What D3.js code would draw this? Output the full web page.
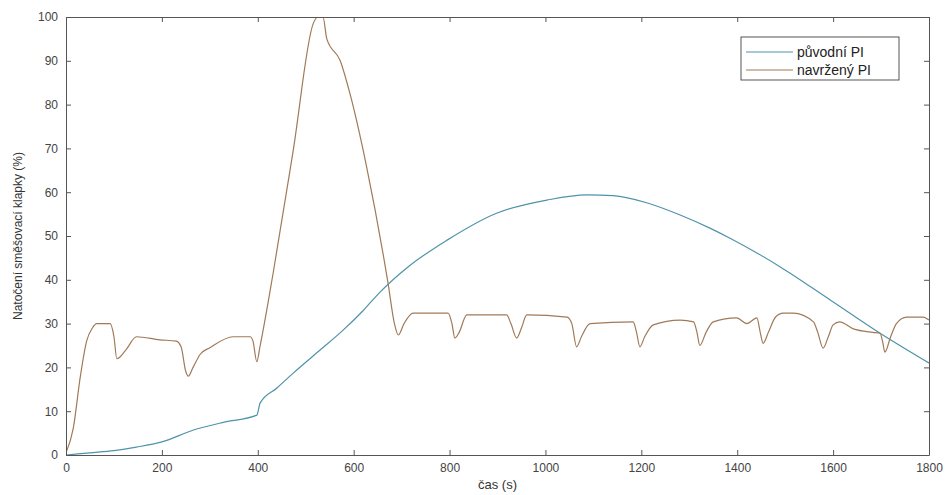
<!DOCTYPE html>
<html>
<head>
<meta charset="utf-8">
<script src="https://cdn.jsdelivr.net/npm/d3@7"></script>
<style>
  body { margin: 0; background: #fff; }
  .axis text { font-family: "Liberation Sans", Arial, sans-serif; font-size: 12px; fill: #444; }
  .axis path, .axis line { stroke: #555; }
</style>
</head>
<body>
<div id="chart"></div>
<script>
// time (s) and valve position (%)
var puvodniTime = [0, 50, 100, 147, 200, 266, 330, 398, 405, 440, 474, 525, 578, 620, 655, 714, 794, 898, 1003, 1086, 1141, 1211, 1281, 1343, 1385, 1489, 1594, 1698, 1800];
var puvodniValue = [0, 0.5, 1, 1.8, 3, 5.7, 7.5, 9.1, 11.9, 15.3, 18.7, 23.5, 28.5, 33, 37.2, 43, 49, 55.2, 58.2, 59.4, 59.2, 57.6, 54.8, 51.8, 49.5, 43, 35.4, 27.8, 21];

var navrzenyTime = [0, 15, 30, 43, 55, 64, 92, 100, 106, 125, 147, 196, 230, 240, 250, 255, 265, 280, 300, 349, 384, 390, 398, 405, 432, 474, 516, 525, 536, 544, 572, 592, 627, 672, 685, 693, 705, 724, 797, 805, 811, 820, 836, 919, 928, 940, 950, 961, 1045, 1055, 1065, 1075, 1093, 1183, 1190, 1197, 1207, 1225, 1281, 1309, 1316, 1322, 1335, 1350, 1399, 1420, 1441, 1448, 1454, 1465, 1480, 1496, 1517, 1559, 1568, 1579, 1590, 1600, 1614, 1642, 1683, 1698, 1703, 1708, 1720, 1732, 1753, 1788, 1800];
var navrzenyValue = [0.5, 6, 18, 26, 29, 30, 30, 27, 22, 24, 27, 26.3, 26, 24.7, 19, 18, 20, 23, 24.5, 27, 27, 26, 21.3, 25, 41.5, 69.6, 98.6, 100, 100, 95, 90, 82.6, 65.8, 39, 30, 27.4, 30, 32.4, 32.4, 30, 26.7, 28, 32, 32, 30, 26.7, 29, 32, 31.5, 30, 24.7, 27, 30, 30.4, 28, 24.7, 27, 29.7, 30.8, 30.4, 28, 25, 28, 30.4, 31.3, 30, 31.3, 28, 25.5, 28, 31.5, 32.4, 32.4, 30.4, 28, 24.4, 27, 29.7, 30.4, 28.8, 28, 27.8, 26, 23.5, 27, 30, 31.5, 31.5, 30.8];

var xTicks = [0, 200, 400, 600, 800, 1000, 1200, 1400, 1600, 1800];
var yTicks = [0, 10, 20, 30, 40, 50, 60, 70, 80, 90, 100];
var seriesNames = ['původní PI', 'navržený PI'];

var width = 949;
var height = 495;
var margin = { top: 17, right: 20, bottom: 40, left: 66 };
var colors = ['#4f93a8', '#a07a58'];

var data = [
  { name: seriesNames[0], values: puvodniTime.map(function (t, i) { return { t: t, v: puvodniValue[i] }; }) },
  { name: seriesNames[1], values: navrzenyTime.map(function (t, i) { return { t: t, v: navrzenyValue[i] }; }) }
];

/* Scale */
var xScale = d3.scaleLinear()
  .domain([0, 1800])
  .range([margin.left, width - margin.right]);
var yScale = d3.scaleLinear()
  .domain([0, 100])
  .range([height - margin.bottom, margin.top]);

var svg = d3.select('#chart').append('svg')
  .attr('width', width)
  .attr('height', height);

svg.append('clipPath').attr('id', 'plot-clip')
  .append('rect')
  .attr('x', margin.left)
  .attr('y', margin.top)
  .attr('width', xScale(1800) - xScale(0))
  .attr('height', yScale(0) - yScale(100));

/* Lines */
var line = d3.line()
  .x(function (d) { return xScale(d.t); })
  .y(function (d) { return yScale(d.v); })
  .curve(d3.curveMonotoneX);

svg.append('g')
  .attr('clip-path', 'url(#plot-clip)')
  .selectAll('path')
  .data(data).enter()
  .append('path')
  .attr('d', function (d) { return line(d.values); })
  .attr('fill', 'none')
  .attr('stroke', function (d, i) { return colors[i]; })
  .attr('stroke-width', 1.2);

/* Axes - ticks inside like matlab */
var fmt = d3.format('d');
svg.append('g')
  .attr('class', 'axis')
  .attr('transform', 'translate(0,' + yScale(0) + ')')
  .call(d3.axisBottom(xScale).tickValues(xTicks).tickFormat(fmt).tickSizeInner(-5).tickSizeOuter(0).tickPadding(8));
svg.append('g')
  .attr('class', 'axis')
  .attr('transform', 'translate(0,' + yScale(100) + ')')
  .call(d3.axisTop(xScale).tickValues(xTicks).tickSizeInner(-5).tickSizeOuter(0).tickFormat(''));
svg.append('g')
  .attr('class', 'axis')
  .attr('transform', 'translate(' + xScale(0) + ',0)')
  .call(d3.axisLeft(yScale).tickValues(yTicks).tickFormat(fmt).tickSizeInner(-5).tickSizeOuter(0).tickPadding(8));
svg.append('g')
  .attr('class', 'axis')
  .attr('transform', 'translate(' + xScale(1800) + ',0)')
  .call(d3.axisRight(yScale).tickValues(yTicks).tickSizeInner(-5).tickSizeOuter(0).tickFormat(''));

/* Axis titles */
svg.append('text')
  .attr('x', (xScale(0) + xScale(1800)) / 2)
  .attr('y', height - 6)
  .attr('text-anchor', 'middle')
  .attr('font-family', 'Liberation Sans, Arial, sans-serif')
  .attr('font-size', 13)
  .attr('fill', '#333')
  .text('čas (s)');

svg.append('text')
  .attr('transform', 'translate(22,' + (yScale(50)) + ') rotate(-90)')
  .attr('text-anchor', 'middle')
  .attr('font-family', 'Liberation Sans, Arial, sans-serif')
  .attr('font-size', 12)
  .attr('fill', '#333')
  .text('Natočení směšovací klapky (%)');

//========= legend ============//
var legend = svg.append('g')
  .attr('transform', 'translate(741,37)');
legend.append('rect')
  .attr('width', 158)
  .attr('height', 43)
  .attr('fill', '#fff')
  .attr('stroke', '#555');
var items = legend.selectAll('.item')
  .data(data).enter()
  .append('g')
  .attr('class', 'item')
  .attr('transform', function (d, i) { return 'translate(0,' + (15 + i * 18) + ')'; });
items.append('line')
  .attr('x1', 5).attr('x2', 52)
  .attr('stroke', function (d, i) { return colors[i]; })
  .attr('stroke-width', 1.2);
items.append('text')
  .attr('x', 56)
  .attr('dy', '0.35em')
  .attr('font-family', 'Liberation Sans, Arial, sans-serif')
  .attr('font-size', 14)
  .attr('fill', '#222')
  .text(function (d) { return d.name; });
</script>
</body>
</html>
